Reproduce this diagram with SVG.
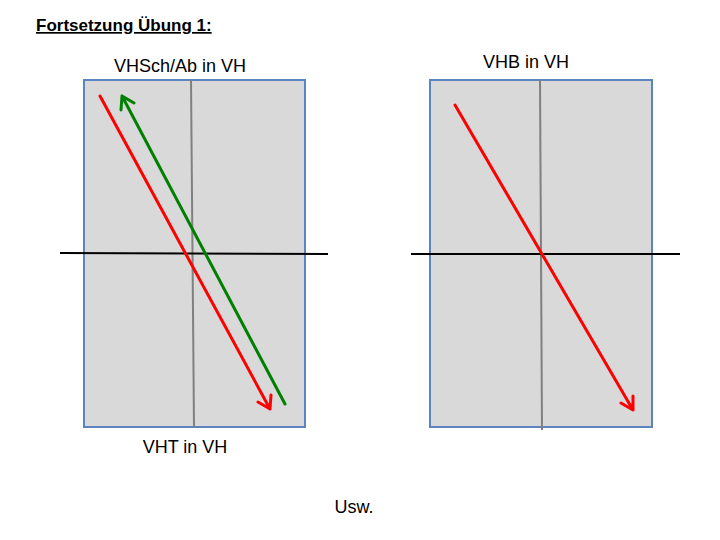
<svg xmlns="http://www.w3.org/2000/svg" width="720" height="540" viewBox="0 0 720 540">
<style>
.box{fill:#d9d9d9;stroke:#5b84c0;stroke-width:2}
.axis{stroke:#808080;stroke-width:2}
.hline{stroke:#000;stroke-width:2}
.red{stroke:#ff0000;stroke-width:3;fill:none;stroke-linecap:round;stroke-linejoin:round}
.green{stroke:#008000;stroke-width:3;fill:none;stroke-linecap:round;stroke-linejoin:round}
text{font-family:"Liberation Sans",Arial,sans-serif;fill:#000}
.lbl{font-size:18px;text-anchor:middle}
</style>
<rect width="720" height="540" fill="#fff"/>
<text x="36" y="31" font-size="17" font-weight="bold" text-decoration="underline">Fortsetzung Übung 1:</text>
<g id="left-panel">
<rect class="box" x="84" y="80" width="221" height="347"/>
<line class="axis" x1="191" y1="80" x2="194" y2="427"/>
<line class="hline" x1="60" y1="253" x2="328" y2="254"/>
</g>
<g id="right-panel">
<rect class="box" x="430" y="80" width="222" height="347"/>
<line class="axis" x1="540" y1="80" x2="542" y2="430"/>
<line class="hline" x1="411" y1="254" x2="680" y2="254"/>
</g>
<g id="connectors">
<path class="red" d="M100,96 L270,409 M258,402 L270,409 L271,395"/>
<path class="green" d="M285,404 L122,96 M121,110 L122,96 L134,103"/>
<path class="red" d="M455,105 L633,410 M621,403 L633,410 L633,396"/>
</g>
<text class="lbl" x="180" y="72">VHSch/Ab in VH</text>
<text class="lbl" x="526" y="68">VHB in VH</text>
<text class="lbl" x="185" y="453">VHT in VH</text>
<text class="lbl" x="354" y="513">Usw.</text>
</svg>
